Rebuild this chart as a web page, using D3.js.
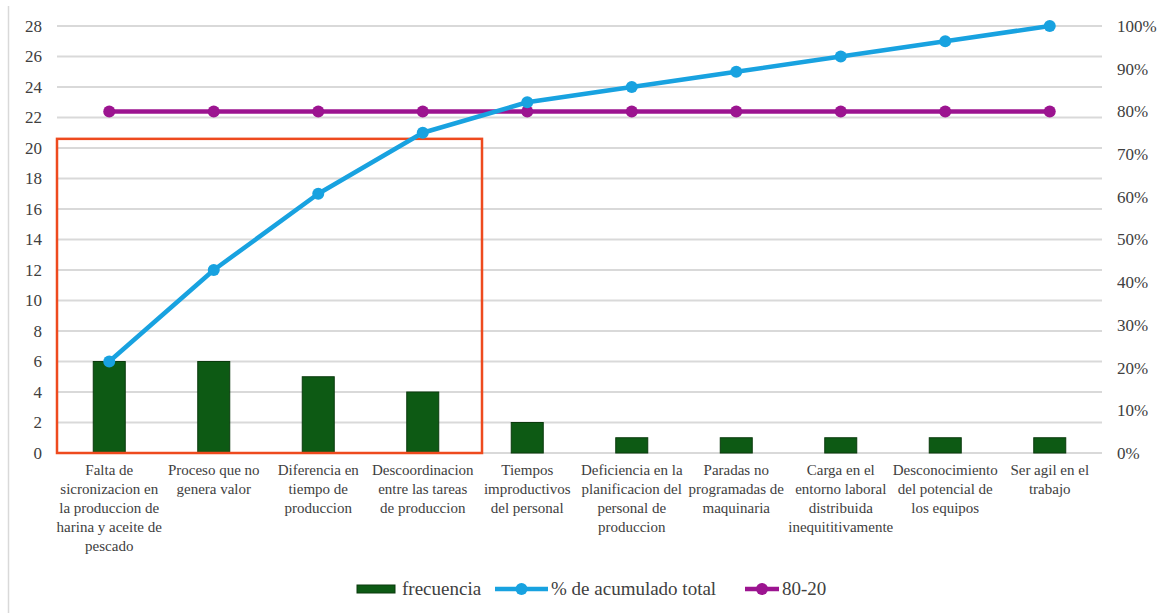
<!DOCTYPE html>
<html>
<head>
<meta charset="utf-8">
<script src="https://cdn.jsdelivr.net/npm/d3@7"></script>
<style>
  body { margin: 0; background: #fff; }
  svg text { font-family: "Liberation Serif", "Times New Roman", "DejaVu Serif", serif !important; }
  .grid line { stroke: #d9d9d9; stroke-width: 2; }
  .axis text { fill: #404040; font-size: 17px; }
  .xlab { fill: #404040; font-size: 15px; }
  .legend text { fill: #404040; font-size: 19px; }
</style>
</head>
<body>
<svg width="1168" height="613"></svg>
<script>
var categories = [
  ["Falta de", "sicronizacion en", "la produccion de", "harina y aceite de", "pescado"],
  ["Proceso que no", "genera valor"],
  ["Diferencia en", "tiempo de", "produccion"],
  ["Descoordinacion", "entre las tareas", "de produccion"],
  ["Tiempos", "improductivos", "del personal"],
  ["Deficiencia en la", "planificacion del", "personal de", "produccion"],
  ["Paradas no", "programadas de", "maquinaria"],
  ["Carga en el", "entorno laboral", "distribuida", "inequititivamente"],
  ["Desconocimiento", "del potencial de", "los equipos"],
  ["Ser agil en el", "trabajo"]
];
var frecuencia = [6, 6, 5, 4, 2, 1, 1, 1, 1, 1];
var acumulado = [6, 12, 17, 21, 23, 24, 25, 26, 27, 28];
var linea8020 = [22.4, 22.4, 22.4, 22.4, 22.4, 22.4, 22.4, 22.4, 22.4, 22.4];
var leftTicks = d3.range(0, 29, 2);
var rightTicks = d3.range(0, 1.01, 0.1);
var highlight = {from: 0, to: 3, top: 20.6};

var svg = d3.select("svg");
var mLeft = 57, mRight = 1102, mTop = 26, mBottom = 453;

var x = d3.scaleBand().domain(d3.range(categories.length)).range([mLeft, mRight]);
var y = d3.scaleLinear().domain([0, 28]).range([mBottom, mTop]);
var y2 = d3.scaleLinear().domain([0, 1]).range([mBottom, mTop]);

// frame line on the left
svg.append("line").attr("x1", 8.5).attr("x2", 8.5).attr("y1", 6).attr("y2", 613)
  .attr("stroke", "#d9d9d9").attr("stroke-width", 1.5);

svg.append("g").attr("class", "grid")
  .selectAll("line").data(leftTicks)
  .enter().append("line")
    .attr("x1", mLeft).attr("x2", mRight)
    .attr("y1", function(d) { return y(d); }).attr("y2", function(d) { return y(d); });

var yl = svg.append("g").attr("class", "axis")
  .attr("transform", "translate(" + mLeft + ",0)")
  .call(d3.axisLeft(y).tickValues(leftTicks).tickSize(0).tickPadding(15));
yl.select(".domain").remove();

var yr = svg.append("g").attr("class", "axis")
  .attr("transform", "translate(" + mRight + ",0)")
  .call(d3.axisRight(y2).tickValues(rightTicks).tickSize(0).tickPadding(15).tickFormat(d3.format(".0%")));
yr.select(".domain").remove();
svg.selectAll(".axis").attr("font-family", null);

var bw = 32;
svg.append("g").selectAll("rect").data(frecuencia)
  .enter().append("rect")
    .attr("x", function(d, i) { return x(i) + x.bandwidth() / 2 - bw / 2; })
    .attr("y", function(d) { return y(d); })
    .attr("width", bw)
    .attr("height", function(d) { return y(0) - y(d); })
    .attr("fill", "#0d5a14")
    .attr("stroke", "#0a3a0c").attr("stroke-width", 1);

// highlight box (slightly wider than the 4 bands)
svg.append("rect")
  .attr("x", x(highlight.from))
  .attr("y", y(highlight.top))
  .attr("width", x(highlight.to) + x.bandwidth() - x(highlight.from) + 7)
  .attr("height", y(0) - y(highlight.top))
  .attr("fill", "none").attr("stroke", "#ee4a1e").attr("stroke-width", 2.5);

var cx = function(d, i) { return x(i) + x.bandwidth() / 2; };
function series(vals, color) {
  var line = d3.line().x(cx).y(function(d) { return y(d); });
  svg.append("path").datum(vals).attr("d", line)
    .attr("fill", "none").attr("stroke", color).attr("stroke-width", 4.5)
    .attr("stroke-linejoin", "round");
  svg.append("g").selectAll("circle").data(vals)
    .enter().append("circle")
      .attr("cx", cx).attr("cy", function(d) { return y(d); })
      .attr("r", 6).attr("fill", color);
}
series(linea8020, "#9c1490");
series(acumulado, "#18a2e0");

// x labels
var lab = svg.append("g").selectAll("text").data(categories)
  .enter().append("text")
    .attr("class", "xlab")
    .attr("text-anchor", "middle")
    .attr("x", function(d, i) { return x(i) + x.bandwidth() / 2; })
    .attr("y", 475);
lab.selectAll("tspan").data(function(d) { return d; })
  .enter().append("tspan")
    .attr("x", function() { return this.parentNode.getAttribute("x"); })
    .attr("dy", function(d, i) { return i ? 19 : 0; })
    .text(function(d) { return d; });

// legend
var lg = svg.append("g").attr("class", "legend");
var ly = 589;
lg.append("rect").attr("x", 357).attr("y", ly - 4).attr("width", 38).attr("height", 8)
  .attr("fill", "#0d5a14").attr("stroke", "#0a3a0c");
lg.append("text").attr("x", 402).attr("y", ly + 6).text("frecuencia");
[[495, 53, "#18a2e0", "% de acumulado total"], [745, 34, "#9c1490", "80-20"]].forEach(function(e) {
  lg.append("line").attr("x1", e[0]).attr("x2", e[0] + e[1]).attr("y1", ly).attr("y2", ly)
    .attr("stroke", e[2]).attr("stroke-width", 4.5);
  lg.append("circle").attr("cx", e[0] + e[1] / 2).attr("cy", ly).attr("r", 6).attr("fill", e[2]);
  lg.append("text").attr("x", e[0] + e[1] + 3).attr("y", ly + 6).text(e[3]);
});
</script>
</body>
</html>
